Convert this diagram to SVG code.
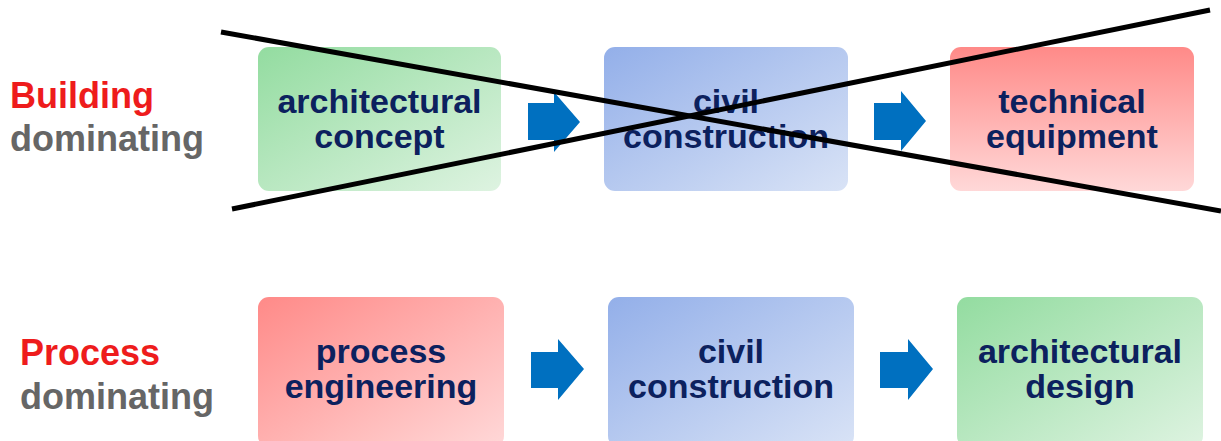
<svg xmlns="http://www.w3.org/2000/svg" width="1221" height="441" viewBox="0 0 1221 441">
<defs>
<linearGradient id="gGreen" x1="0" y1="0" x2="1" y2="1"><stop offset="0" stop-color="#93dca0"/><stop offset="1" stop-color="#def3e1"/></linearGradient>
<linearGradient id="gBlue" x1="0" y1="0" x2="1" y2="1"><stop offset="0" stop-color="#93afe9"/><stop offset="1" stop-color="#d9e3f6"/></linearGradient>
<linearGradient id="gRedV" x1="0" y1="0" x2="0" y2="1"><stop offset="0" stop-color="#ff8a88"/><stop offset="1" stop-color="#ffd8d8"/></linearGradient>
<linearGradient id="gRed" x1="0" y1="0" x2="1" y2="1"><stop offset="0" stop-color="#ff8a88"/><stop offset="1" stop-color="#ffd8d8"/></linearGradient>
<style>
.box{stroke:none}
.t{font-family:"Liberation Sans",Arial,sans-serif;font-weight:bold;font-size:34px;fill:#0c215e;text-anchor:middle}
.lr{font-family:"Liberation Sans",Arial,sans-serif;font-weight:bold;font-size:36px;fill:#ee1c1c}
.lg{font-family:"Liberation Sans",Arial,sans-serif;font-weight:bold;font-size:36px;fill:#666666}
.arr{fill:#0070c0}
.cross{stroke:#000;stroke-width:5;fill:none}
</style>
</defs>
<g id="label-building"><text class="lr" x="10" y="108">Building</text><text class="lg" x="10" y="151">dominating</text></g>
<g id="label-process"><text class="lr" x="20" y="365">Process</text><text class="lg" x="20" y="409">dominating</text></g>
<g id="n-arch-concept"><rect class="box" x="258" y="47" width="243" height="144" rx="11" fill="url(#gGreen)"/><text class="t" x="379.5" y="113">architectural</text><text class="t" x="379.5" y="148">concept</text></g>
<g id="n-civil-top"><rect class="box" x="604" y="47" width="244" height="144" rx="11" fill="url(#gBlue)"/><text class="t" x="726" y="113">civil</text><text class="t" x="726" y="148">construction</text></g>
<g id="n-tech"><rect class="box" x="950" y="47" width="244" height="144" rx="11" fill="url(#gRedV)"/><text class="t" x="1072" y="113">technical</text><text class="t" x="1072" y="148">equipment</text></g>
<g id="n-process"><rect class="box" x="258" y="297" width="246" height="150" rx="11" fill="url(#gRed)"/><text class="t" x="381" y="363">process</text><text class="t" x="381" y="398">engineering</text></g>
<g id="n-civil-bottom"><rect class="box" x="608" y="297" width="246" height="150" rx="11" fill="url(#gBlue)"/><text class="t" x="731" y="363">civil</text><text class="t" x="731" y="398">construction</text></g>
<g id="n-arch-design"><rect class="box" x="957" y="297" width="246" height="150" rx="11" fill="url(#gGreen)"/><text class="t" x="1080" y="363">architectural</text><text class="t" x="1080" y="398">design</text></g>
<g id="connectors">
<polygon class="arr" points="528,103 554,103 554,92 580,122 554,152 554,140 528,140"/>
<polygon class="arr" points="874,103 901,103 901,91 926,121 901,151 901,140 874,140"/>
<polygon class="arr" points="531,352 558,352 558,339 584,369 558,400 558,388 531,388"/>
<polygon class="arr" points="880,352 908,352 908,339 933,369 908,400 908,388 880,388"/>
</g>
<g id="cross">
<line class="cross" x1="221" y1="32" x2="1221" y2="211"/>
<line class="cross" x1="232" y1="209" x2="1210" y2="10"/>
</g>
</svg>
